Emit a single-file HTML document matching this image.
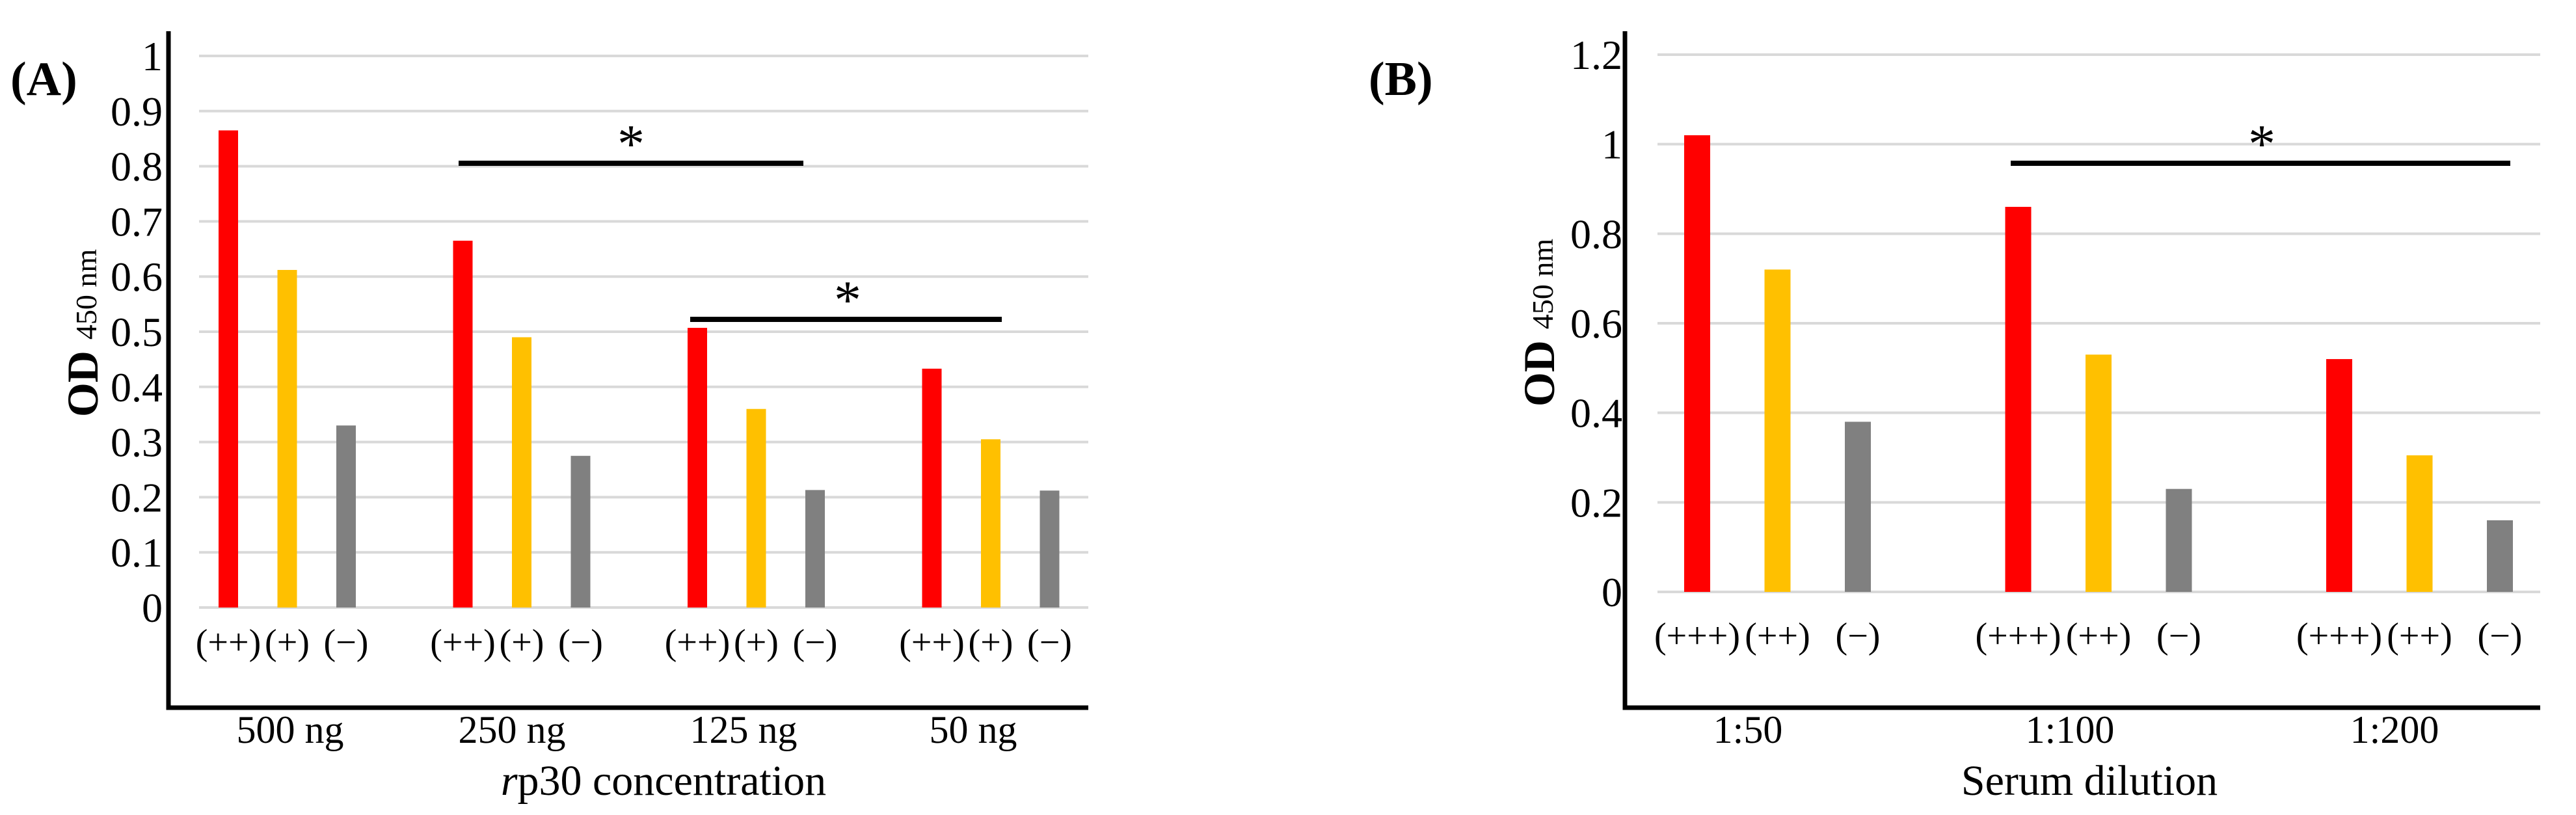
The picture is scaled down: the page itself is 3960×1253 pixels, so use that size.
<!DOCTYPE html>
<html><head><meta charset="utf-8"><style>
html,body{margin:0;padding:0;background:#fff;}
svg, svg text{font-family:"Liberation Serif","DejaVu Serif",serif;}
svg{display:block;}
</style></head><body>
<svg id="chart" width="3960" height="1253" viewBox="0 0 3960 1253" xmlns="http://www.w3.org/2000/svg" font-family="Liberation Serif, DejaVu Serif, serif"></svg>
<script>
const groupsA = ["500 ng","250 ng","125 ng","50 ng"];
const subLabelsA = ["(++)","(+)","(−)"];
const strongA = [0.865,0.665,0.507,0.433];
const weakA = [0.612,0.49,0.36,0.305];
const negA = [0.33,0.275,0.213,0.212];
const ticksA = [0,0.1,0.2,0.3,0.4,0.5,0.6,0.7,0.8,0.9,1];
const tickLabelsA = ["0","0.1","0.2","0.3","0.4","0.5","0.6","0.7","0.8","0.9","1"];

const groupsB = ["1:50","1:100","1:200"];
const subLabelsB = ["(+++)","(++)","(−)"];
const strongB = [1.02,0.86,0.52];
const weakB = [0.72,0.53,0.305];
const negB = [0.38,0.23,0.16];
const ticksB = [0,0.2,0.4,0.6,0.8,1,1.2];
const tickLabelsB = ["0","0.2","0.4","0.6","0.8","1","1.2"];

const NS="http://www.w3.org/2000/svg";
const svg=document.getElementById('chart');
const FF='"Liberation Serif", "DejaVu Serif", serif';
function mk(tag,attrs,parent){const e=document.createElementNS(NS,tag);for(const k in attrs)e.setAttribute(k,attrs[k]);if(tag==='text')e.style.fontFamily=FF;(parent||svg).appendChild(e);return e;}
const colors=["#FF0000","#FFC000","#808080"];

function panel(cfg){
  const g=mk('g',{});
  
  
  const y=v=>cfg.y0-(v/cfg.vmax)*(cfg.y0-cfg.yTop);
  cfg.ticks.forEach((t,i)=>{
    const l=mk('line',{x1:cfg.gridX0,x2:cfg.axisRight,y1:y(t),y2:y(t),stroke:"#d9d9d9","stroke-width":4},g);
    
    
    const tx=mk('text',{x:cfg.tickRight,y:y(t)+22,"text-anchor":"end","font-size":64},g);
    tx.textContent=cfg.tickLabels[i];
    
    
  });
  const series=[cfg.s1,cfg.s2,cfg.s3];
  cfg.groups.forEach((gname,gi)=>{
    series.forEach((s,si)=>{
      const cx=cfg.firstX+gi*cfg.groupStep+si*cfg.barStep;
      const r=mk('rect',{x:cx-cfg.barW/2,y:y(s[gi]),width:cfg.barW,height:cfg.y0-y(s[gi]),fill:colors[si]},g);
      
      
      const st=mk('text',{x:cx,y:cfg.subY,"text-anchor":"middle","font-size":56},g);
      st.textContent=cfg.subLabels[si];
      
      
    });
    const ct=mk('text',{x:cfg.catX[gi],y:1142,"text-anchor":"middle","font-size":60},g);
    ct.textContent=gname;
    
    
  });
  const ax=mk('path',{d:`M${cfg.axisX},48 V1088 H${cfg.axisRight}`,fill:"none",stroke:"#000","stroke-width":7},g);
  
  
  cfg.sig.forEach(s=>{
    const l=mk('line',{x1:s[0],x2:s[1],y1:s[2],y2:s[2],stroke:"#000","stroke-width":8},g);
    
    
    const t=mk('text',{x:(s[3]),y:s[2]-2,"text-anchor":"middle","font-size":84},g);
    t.textContent="*";
    
    
  });
  const at=mk('text',{x:cfg.titleX,y:1222,"text-anchor":"middle","font-size":66},g);
  at.innerHTML=cfg.title;
  
  
  const yt=mk('text',{x:0,y:0,"text-anchor":"middle","font-size":68,"font-weight":"bold",transform:`translate(${cfg.yTitleX+24},${cfg.yTitleY}) rotate(-90)`},g);
  yt.innerHTML='OD <tspan font-size="46" font-weight="normal" dy="-2">450 nm</tspan>';
  
  
  const pl=mk('text',{x:cfg.panelX,y:146,"font-size":74,"font-weight":"bold"},g);
  pl.textContent=cfg.panelLabel;
  
  
}

panel({name:'panel-a',groups:groupsA,subLabels:subLabelsA,s1:strongA,s2:weakA,s3:negA,ticks:ticksA,tickLabels:tickLabelsA,
  vmax:1,y0:934,yTop:86,gridX0:306,axisX:259,axisRight:1673,tickRight:250,
  firstX:351,groupStep:360.5,barStep:90.5,barW:30,subY:1006,catX:[446,787,1143,1496],
  sig:[[705,1235,251,970],[1061,1540,491,1303]],titleX:1020,
  title:'<tspan font-style="italic">r</tspan>p30 concentration',yTitleX:126,yTitleY:512,panelX:16,panelLabel:'(A)'});
panel({name:'panel-b',groups:groupsB,subLabels:subLabelsB,s1:strongB,s2:weakB,s3:negB,ticks:ticksB,tickLabels:tickLabelsB,
  vmax:1.2,y0:910,yTop:84,gridX0:2548,axisX:2498,axisRight:3905,tickRight:2494,
  firstX:2609,groupStep:493.5,barStep:123.5,barW:40,subY:996,catX:[2687,3182,3681],
  sig:[[3091,3859,251,3477]],titleX:3212,
  title:'Serum dilution',yTitleX:2365,yTitleY:496,panelX:2104,panelLabel:'(B)'});
</script>
</body></html>
